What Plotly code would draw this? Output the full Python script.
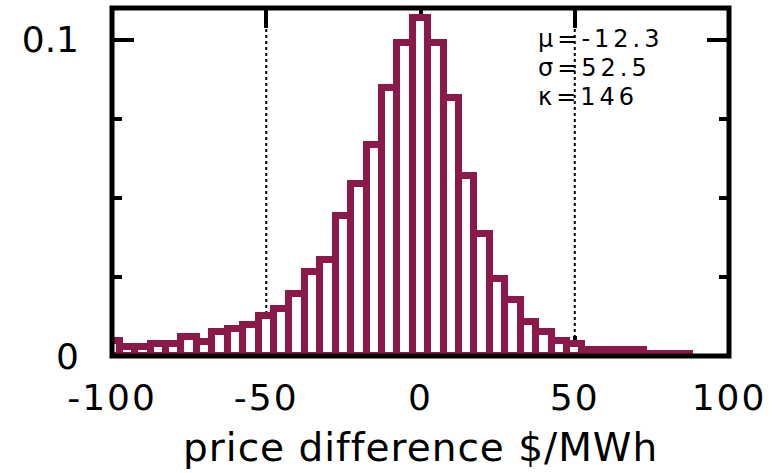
import plotly.graph_objects as go

# Histogram bin centres (width 5) and normalised frequencies
bin_centers = [-100, -95, -90, -85, -80, -75, -70, -65, -60, -55, -50, -45, -40, -35,
               -30, -25, -20, -15, -10, -5, 0, 5, 10, 15, 20, 25, 30, 35, 40, 45, 50,
               55, 60, 65, 70, 75, 80, 85]
freq = [0.0049, 0.0028, 0.0028, 0.0037, 0.0037, 0.0060, 0.0044, 0.0076, 0.0084, 0.0099,
        0.0125, 0.0147, 0.0195, 0.0267, 0.0305, 0.0441, 0.0545, 0.0666, 0.0847, 0.0989,
        0.1069, 0.0989, 0.0815, 0.0568, 0.0387, 0.0244, 0.0178, 0.0107, 0.0076, 0.0046,
        0.0037, 0.0018, 0.0018, 0.0018, 0.0018, 0.0007, 0.0007, 0.0007]
bin_width = 5

x_ticks = [-100, -50, 0, 50, 100]
x_tick_text = ["-100", "-50", "0", "50", "100"]
y_ticks = [0, 0.1]
y_tick_text = ["0", "0.1"]
y_minor_ticks = [0.025, 0.05, 0.075]
cutoffs = [-50, 50]
stats_text = ["μ=-12.3", "σ=52.5", "κ=146"]
stats_y = [0.1001, 0.0910, 0.0820]

BAR = "#8b1a4b"
FONT = "DejaVu Sans"


def spaced(t, px):
    return '<span style="letter-spacing:%dpx">%s</span>' % (px, t)


fig = go.Figure()
fig.add_trace(go.Bar(
    x=bin_centers, y=freq, width=[bin_width] * len(bin_centers),
    marker=dict(color="white", line=dict(color=BAR, width=7)),
    showlegend=False, hoverinfo="skip",
))

for c in cutoffs:
    fig.add_shape(type="line", xref="x", yref="paper", x0=c, x1=c, y0=0, y1=1,
                  line=dict(color="black", width=2, dash="3px,3px"), layer="below")

fig.add_shape(type="rect", xref="paper", yref="paper", x0=0, x1=1, y0=0, y1=1,
              line=dict(color="black", width=5), layer="above")

for t, yy in zip(stats_text, stats_y):
    fig.add_annotation(x=37.8, y=yy, xref="x", yref="y", text=spaced(t, 4),
                       showarrow=False, xanchor="left", yanchor="middle", borderpad=0,
                       font=dict(family=FONT, size=24, color="black"))

fig.add_annotation(x=0.5, y=-0.262, xref="paper", yref="paper",
                   text=spaced("price difference $/MWh", 1),
                   showarrow=False, xanchor="center", yanchor="middle",
                   font=dict(family=FONT, size=39, color="black"))

fig.update_xaxes(range=[-100, 100], tickvals=x_ticks,
                 ticktext=[spaced(t, 2) for t in x_tick_text],
                 ticks="inside", ticklen=20,
                 tickwidth=4, tickcolor="black", mirror="ticks", showline=False,
                 showgrid=False, zeroline=False, layer="below traces",
                 tickfont=dict(family=FONT, size=36, color="black"),
                 ticklabelstandoff=17)
fig.update_yaxes(range=[0, 0.110], tickvals=y_ticks, ticktext=y_tick_text,
                 ticks="inside", ticklen=22, tickwidth=4, tickcolor="black",
                 mirror="ticks", showline=False, showgrid=False, zeroline=False,
                 layer="below traces",
                 minor=dict(tickvals=y_minor_ticks, ticks="inside", ticklen=10,
                            tickwidth=4, tickcolor="black", showgrid=False),
                 tickfont=dict(family=FONT, size=36, color="black"),
                 ticklabelstandoff=32)

fig.update_layout(width=784, height=473, margin=dict(l=112, r=55, t=8, b=117),
                  paper_bgcolor="white", plot_bgcolor="white", bargap=0)

fig.write_html("out.html")
